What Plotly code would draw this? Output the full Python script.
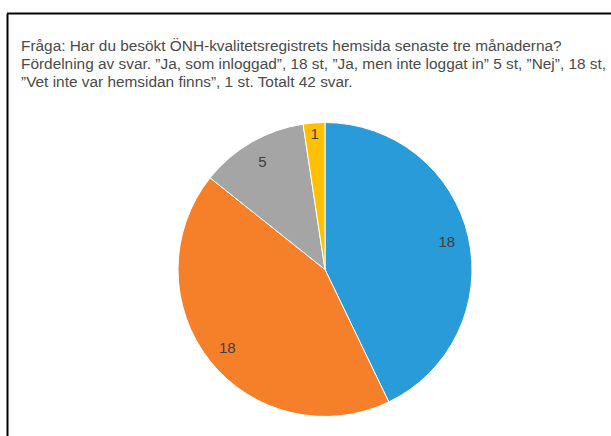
import plotly.graph_objects as go

# svar i pajen, medurs från klockan 12
svar = ["Ja, som inloggad", "Nej", "Ja, men inte loggat in", "Vet inte var hemsidan finns"]
antal = [18, 18, 5, 1]
farger = ["#2A9BD9", "#F6802A", "#A5A5A5", "#FFC000"]

rubrik = [
    "Fråga: Har du besökt ÖNH-kvalitetsregistrets hemsida senaste tre månaderna?",
    "Fördelning av svar. \u201dJa, som inloggad\u201d, 18 st, \u201dJa, men inte loggat in\u201d 5 st, \u201dNej\u201d, 18 st,",
    "\u201dVet inte var hemsidan finns\u201d, 1 st. Totalt 42 svar.",
]

W, H = 611, 436
pie_dom = dict(x=[178 / W, 472 / W], y=[(H - 419) / H, (H - 120) / H])

fig = go.Figure()
# själva pajen
fig.add_trace(go.Pie(
    labels=svar, values=antal, sort=False, direction="clockwise", rotation=0,
    marker=dict(colors=farger, line=dict(color="white", width=1)),
    textinfo="none", domain=pie_dom, showlegend=False,
    hoverinfo="label+value",
))
# genomskinlig ring ovanpå som bara bär etiketterna längre ut
fig.add_trace(go.Pie(
    labels=svar, values=antal, sort=False, direction="clockwise", rotation=0,
    hole=0.7,
    marker=dict(colors=["rgba(0,0,0,0)"] * len(antal), line=dict(width=0)),
    textinfo="value", textposition="inside", insidetextorientation="horizontal",
    textfont=dict(family="Liberation Sans", size=15, color="#3F3F3F"),
    domain=pie_dom, showlegend=False, hoverinfo="skip",
))

for i, rad in enumerate(rubrik):
    fig.add_annotation(
        text=rad, xref="paper", yref="paper",
        x=19 / W, y=(H - 45 - i * 18.5) / H,
        xanchor="left", yanchor="middle", align="left", showarrow=False,
        font=dict(family="Liberation Sans", size=15.4, color="#4A4A4A"),
    )

# ram: bara över- och vänsterkant syns
fig.add_shape(type="line", xref="paper", yref="paper",
              x0=7 / W, x1=1, y0=(H - 13.5) / H, y1=(H - 13.5) / H,
              line=dict(color="black", width=2))
fig.add_shape(type="line", xref="paper", yref="paper",
              x0=7.5 / W, x1=7.5 / W, y0=0, y1=(H - 13.5) / H,
              line=dict(color="black", width=2))

fig.update_layout(
    width=W, height=H,
    margin=dict(l=0, r=0, t=0, b=0),
    paper_bgcolor="white",
    plot_bgcolor="white",
)

# sidans egen marginal bort så att figuren fyller fönstret
fig.write_html("out.html", config={"displayModeBar": False},
               post_script="document.body.style.margin='0';")
